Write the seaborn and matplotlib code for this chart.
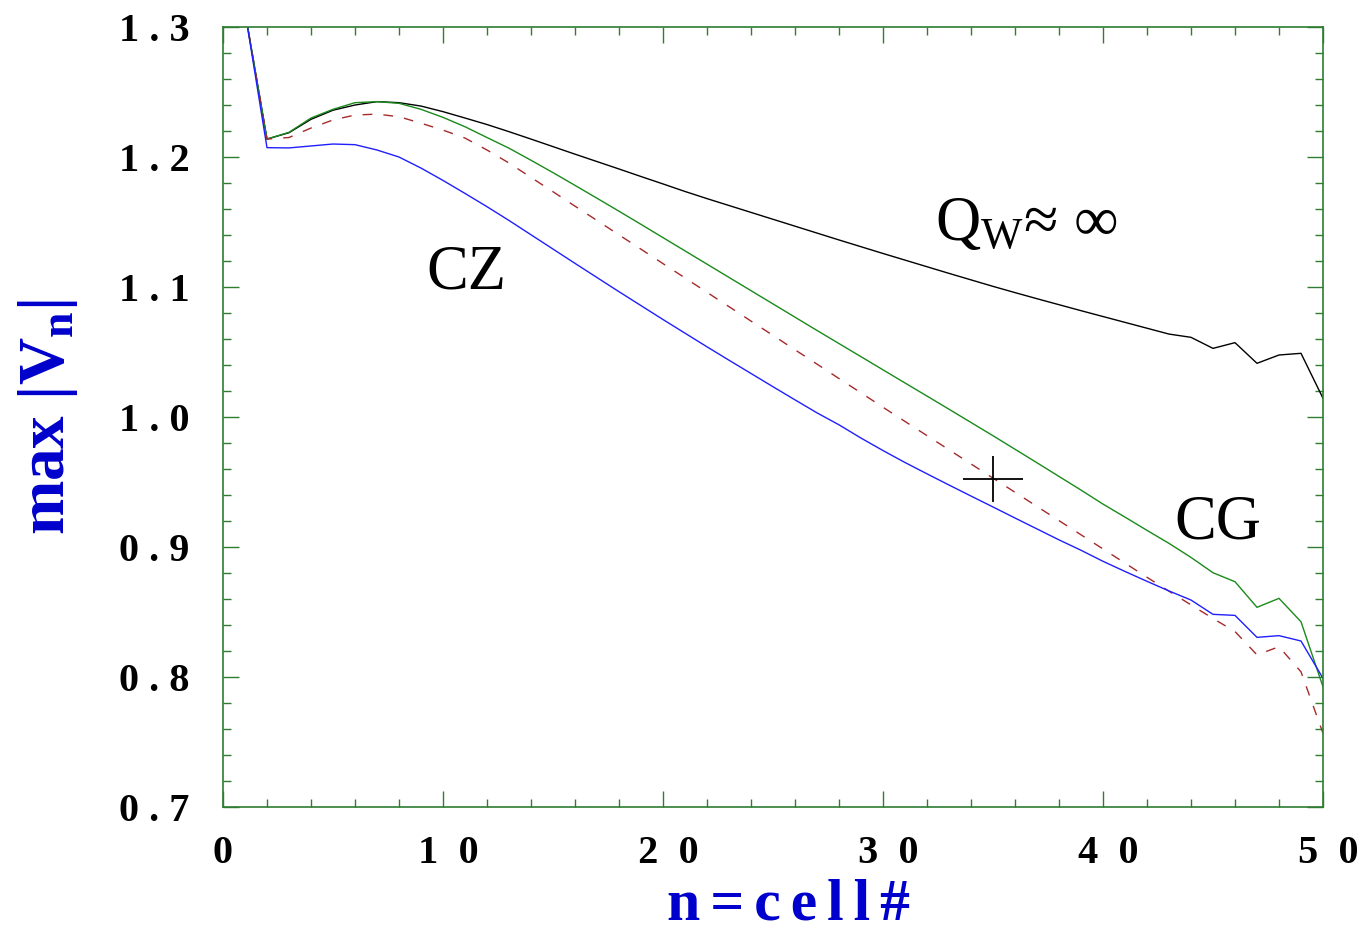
# ==========================================
# MAX |V_n| VERSUS CELL NUMBER
# ==========================================

import numpy as np
import pandas as pd
import matplotlib
matplotlib.use("Agg")
import matplotlib.pyplot as plt
import seaborn as sns
from matplotlib.ticker import MultipleLocator, FixedLocator

# ==========================================
# DATA
# ==========================================

cell = list(range(1, 51))

v_qinf = [1.312, 1.2138, 1.2187, 1.229, 1.236, 1.240, 1.2426, 1.2418, 1.2392, 1.2349,
          1.2300, 1.2250, 1.2195, 1.2138, 1.2080, 1.2022, 1.1965, 1.1908, 1.1850, 1.1793,
          1.1735, 1.1680, 1.1627, 1.1574, 1.1521, 1.1468, 1.1415, 1.1362, 1.1310, 1.1258,
          1.1207, 1.1156, 1.1105, 1.1055, 1.1005, 1.0957, 1.0910, 1.0864, 1.0818, 1.0773,
          1.0728, 1.0683, 1.0638, 1.0613, 1.0528, 1.0572, 1.0413, 1.0477, 1.0490, 1.0144]

v_cg = [1.312, 1.2138, 1.219, 1.230, 1.2367, 1.2418, 1.2426, 1.2413, 1.2367, 1.2305,
        1.2233, 1.2150, 1.2068, 1.1975, 1.1880, 1.1782, 1.1683, 1.1583, 1.1482, 1.1380,
        1.1278, 1.1176, 1.1074, 1.0972, 1.0870, 1.0768, 1.0666, 1.0565, 1.0464, 1.0363,
        1.0262, 1.0161, 1.0060, 0.9958, 0.9856, 0.9752, 0.9648, 0.9543, 0.9438, 0.9330,
        0.9230, 0.9128, 0.9028, 0.8920, 0.8802, 0.8733, 0.8536, 0.8605, 0.8425, 0.7925]

v_mid = [1.312, 1.2138, 1.2150, 1.2223, 1.2285, 1.2323, 1.2330, 1.2310, 1.2260, 1.2207,
         1.2146, 1.2054, 1.1954, 1.1843, 1.1733, 1.1622, 1.1512, 1.1401, 1.1291, 1.1180,
         1.1070, 1.0959, 1.0849, 1.0738, 1.0628, 1.0517, 1.0407, 1.0296, 1.0186, 1.0075,
         0.9966, 0.9857, 0.9748, 0.9639, 0.9530, 0.9421, 0.9312, 0.9203, 0.9094, 0.8985,
         0.8876, 0.8767, 0.8660, 0.8555, 0.8450, 0.8350, 0.8170, 0.8233, 0.8040, 0.7567]

v_cz = [1.312, 1.2072, 1.2070, 1.2085, 1.2100, 1.2095, 1.2054, 1.2000, 1.1915, 1.1820,
        1.1720, 1.1618, 1.1512, 1.1402, 1.1292, 1.1182, 1.1073, 1.0964, 1.0857, 1.0750,
        1.0645, 1.0540, 1.0437, 1.0335, 1.0233, 1.0132, 1.0032, 0.9940, 0.9838, 0.9742,
        0.9650, 0.9563, 0.9477, 0.9392, 0.9308, 0.9223, 0.9139, 0.9055, 0.8975, 0.8890,
        0.8812, 0.8736, 0.8662, 0.8592, 0.8482, 0.8474, 0.8305, 0.8318, 0.8277, 0.7990]

cross_x = [35.0]
cross_y = [0.952]

x_ticks = [0, 10, 20, 30, 40, 50]
x_tick_labels = ["0", " 1  0", " 2  0", " 3  0", " 4  0", " 5  0"]
y_ticks = [0.7, 0.8, 0.9, 1.0, 1.1, 1.2, 1.3]
y_tick_labels = ["0 . 7", "0 . 8", "0 . 9", "1 . 0", "1 . 1", "1 . 2", "1 . 3"]

notes = ["CZ", "CG", "Q$_\\mathrm{W}$\u2248 \u221e"]
note_x = [11.05, 45.2, 32.36]
note_y = [1.0992, 0.9069, 1.1362]
note_ha = ["center", "center", "left"]

df = pd.DataFrame({
    "n": cell,
    "qinf": v_qinf,
    "cg": v_cg,
    "mid": v_mid,
    "cz": v_cz,
})

# ==========================================
# STYLE
# ==========================================

sns.set_style("ticks")
plt.rcParams["font.family"] = ["Liberation Serif", "DejaVu Serif"]
plt.rcParams["mathtext.fontset"] = "custom"
plt.rcParams["mathtext.rm"] = "Liberation Serif"
plt.rcParams["mathtext.it"] = "Liberation Serif:italic"
plt.rcParams["mathtext.bf"] = "Liberation Serif:bold"
plt.rcParams["text.color"] = "black"
plt.rcParams["xtick.labelcolor"] = "black"
plt.rcParams["ytick.labelcolor"] = "black"

frame_green = "#2e7d32"

fig = plt.figure(figsize=(13.68, 9.35), dpi=100)
ax = fig.add_axes([0.163, 0.1369, 0.8041, 0.8342])

# ==========================================
# LINES
# ==========================================

sns.lineplot(data=df, x="n", y="qinf", ax=ax, color="black", linewidth=1.0)
sns.lineplot(data=df, x="n", y="cg", ax=ax, color="#1a8a1a", linewidth=1.0)
sns.lineplot(data=df, x="n", y="mid", ax=ax, color="#a52a2a", linewidth=1.0)
ax.lines[-1].set_dashes((7, 8))
sns.lineplot(data=df, x="n", y="cz", ax=ax, color="#1f1fff", linewidth=1.0)

ax.errorbar(cross_x, cross_y, xerr=1.35, yerr=0.0177, fmt="none",
            ecolor="black", elinewidth=1.3, capsize=0)

for txt, tx, ty, ha in zip(notes, note_x, note_y, note_ha):
    ax.text(tx, ty, txt, fontsize=45, ha=ha, va="baseline", color="black")

# ==========================================
# AXES
# ==========================================

ax.set_xlim(0, 50)
ax.set_ylim(0.7, 1.3)

ax.xaxis.set_major_locator(FixedLocator(x_ticks))
ax.xaxis.set_minor_locator(MultipleLocator(2))
ax.yaxis.set_major_locator(FixedLocator(y_ticks))
ax.yaxis.set_minor_locator(MultipleLocator(0.02))
ax.set_xticklabels(x_tick_labels)
ax.set_yticklabels(y_tick_labels)

ax.tick_params(which="both", direction="in", top=True, right=True,
               color=frame_green, width=1.0, labelcolor="black")
ax.tick_params(which="major", length=11.5)
ax.tick_params(which="minor", length=6)
ax.tick_params(axis="x", which="major", pad=20, labelsize=29)
ax.tick_params(axis="y", which="major", pad=24, labelsize=29)
for lab in ax.get_xticklabels() + ax.get_yticklabels():
    lab.set_fontweight("bold")
    lab.set_color("black")

for sp in ax.spines.values():
    sp.set_color(frame_green)
    sp.set_linewidth(1.2)

hs = "\u200a\u200a"
ax.set_xlabel(hs.join("n=cell#"), fontsize=43, fontweight="bold",
              color="#0000cc", labelpad=5)
ax.xaxis.label.set_x(0.5136)
ax.set_ylabel(r"max $\mathbf{|V_n|}$", fontsize=47, fontweight="bold",
              color="#0000cc", labelpad=28)

fig.savefig("out.png", dpi=100)
